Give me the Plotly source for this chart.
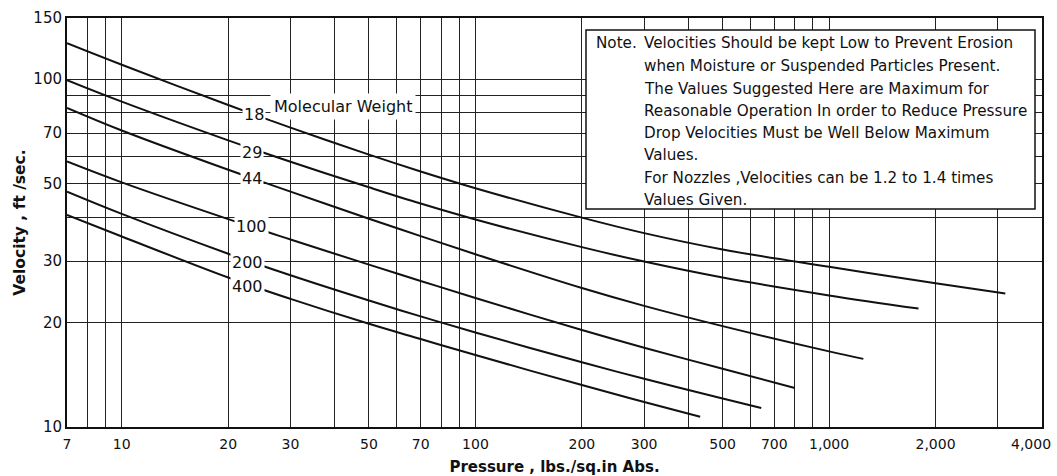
import numpy as np
import plotly.graph_objects as go

# Suggested maximum gas velocity (ft/sec) vs. absolute pressure (psia),
# one curve per molecular weight.
mw_names = ["18", "29", "44", "100", "200", "400"]

p_18 = [7, 10, 20, 30, 50, 70, 100, 200, 300, 500, 1000, 2000, 3150]
v_18 = [127, 110.1, 84.3, 72.6, 60.7, 54.3, 48.6, 40.0, 36.1, 32.4, 28.9, 25.9, 24.2]

p_29 = [7, 10, 20, 30, 50, 70, 100, 200, 300, 500, 1000, 1790]
v_29 = [99.4, 86.2, 66.7, 57.9, 48.9, 43.9, 39.5, 32.9, 29.9, 26.9, 23.9, 21.9]

p_44 = [7, 10, 20, 30, 50, 70, 100, 200, 300, 500, 1000, 1250]
v_44 = [82.7, 71.2, 54.9, 47.5, 39.7, 35.4, 31.4, 25.1, 22.3, 19.5, 16.5, 15.7]

p_100 = [7, 10, 20, 30, 50, 70, 100, 200, 300, 500, 800]
v_100 = [58, 50.5, 39.6, 34.6, 29.3, 26.3, 23.5, 19.0, 16.9, 14.7, 12.95]

p_200 = [7, 10, 20, 30, 50, 70, 100, 200, 300, 500, 643]
v_200 = [47.5, 41.0, 31.5, 27.3, 23.1, 20.8, 18.7, 15.35, 13.76, 12.08, 11.34]

p_400 = [7, 10, 20, 30, 50, 70, 100, 200, 300, 432]
v_400 = [40.7, 35.3, 26.9, 23.35, 19.8, 17.9, 16.1, 13.2, 11.8, 10.7]

# where each molecular-weight number sits on its curve
label_p = [23.6, 23.4, 23.4, 23.2, 22.6, 22.6]
label_v = [79.4, 61.4, 52.0, 37.6, 29.8, 25.4]

# axis grid and tick labels
x_grid = [7, 8, 9, 10, 20, 30, 40, 50, 60, 70, 80, 90, 100, 200, 300, 400,
          500, 600, 700, 800, 900, 1000, 2000, 3000, 4000]
x_labels = {7: "7", 10: "10", 20: "20", 30: "30", 50: "50", 70: "70",
            100: "100", 200: "200", 300: "300", 500: "500", 700: "700",
            1000: "1,000", 2000: "2,000"}
x_end_label = "4,000"
y_grid = [10, 20, 30, 40, 50, 60, 70, 80, 90, 100, 150]
y_labels = {10: "10", 20: "20", 30: "30", 50: "50", 70: "70", 100: "100", 150: "150"}

note_lines = [
    "Velocities Should be kept Low to Prevent Erosion",
    "when Moisture or Suspended Particles Present.",
    "The Values Suggested Here are Maximum for",
    "Reasonable Operation In order to Reduce Pressure",
    "Drop Velocities Must be Well Below Maximum",
    "Values.",
    "For Nozzles ,Velocities can be 1.2 to 1.4 times",
    "Values Given.",
]

FONT = "DejaVu Sans"
INK = "#111111"

curves = [(p_18, v_18), (p_29, v_29), (p_44, v_44),
          (p_100, v_100), (p_200, v_200), (p_400, v_400)]

fig = go.Figure()
for name, (p, v) in zip(mw_names, curves):
    fig.add_trace(go.Scatter(
        x=p, y=v, mode="lines", name=name,
        line=dict(color=INK, width=2, shape="spline", smoothing=1.0),
        showlegend=False, hoverinfo="skip",
    ))

annotations = []
for name, p, v in zip(mw_names, label_p, label_v):
    annotations.append(dict(
        x=np.log10(p), y=np.log10(v), xref="x", yref="y",
        text=name, showarrow=False, font=dict(family=FONT, size=16, color=INK),
        bgcolor="white", borderpad=1,
    ))
annotations.append(dict(
    x=np.log10(42.2), y=np.log10(83.7), xref="x", yref="y",
    text="Molecular Weight", showarrow=False,
    font=dict(family=FONT, size=16, color=INK),
    bgcolor="white", borderpad=3,
))

# plotting-area geometry in page pixels
L, R, T, B = 67, 1042, 18, 427
W, H = R - L, B - T


def px_x(px):
    return (px - L) / W


def px_y(py):
    return (B - py) / H


# last pressure label, set just inside the right edge
annotations.append(dict(
    x=px_x(1053), y=px_y(444), xref="paper", yref="paper",
    xanchor="right", yanchor="middle", text=x_end_label, showarrow=False,
    font=dict(family=FONT, size=14, color=INK),
))

# note box
note_y = [43, 66, 89, 111, 133, 155, 178, 200]
annotations.append(dict(
    x=px_x(594), y=px_y(note_y[0]), xref="paper", yref="paper",
    xanchor="left", yanchor="middle", text="Note.", showarrow=False,
    font=dict(family=FONT, size=15.2, color=INK),
))
for line, yy in zip(note_lines, note_y):
    annotations.append(dict(
        x=px_x(642), y=px_y(yy), xref="paper", yref="paper",
        xanchor="left", yanchor="middle", text=line, showarrow=False,
        font=dict(family=FONT, size=15.2, color=INK),
    ))

shapes = [dict(
    type="rect", xref="paper", yref="paper",
    x0=px_x(586), x1=px_x(1035), y0=px_y(209), y1=px_y(30),
    line=dict(color=INK, width=1.5), fillcolor="white", layer="above",
)]

fig.update_layout(
    width=1057, height=476, autosize=False,
    margin=dict(l=L, r=1057 - R, t=T, b=476 - B),
    paper_bgcolor="white", plot_bgcolor="white",
    font=dict(family=FONT, color=INK),
    annotations=annotations, shapes=shapes,
    xaxis=dict(
        type="log", range=[np.log10(7) - 1e-5, np.log10(4000) + 1e-5],
        tickvals=x_grid, ticktext=[x_labels.get(v, "") for v in x_grid],
        showgrid=True, gridcolor="#222222", gridwidth=1.3,
        showline=True, linecolor=INK, linewidth=2, mirror=True,
        ticks="", ticklabelstandoff=3,
        tickfont=dict(family=FONT, size=14, color=INK),
        title=dict(text="<b>Pressure , lbs./sq.in Abs.</b>", standoff=12,
                   font=dict(family=FONT, size=15, color=INK)),
        zeroline=False, automargin=False,
    ),
    yaxis=dict(
        type="log", range=[np.log10(10) - 1e-5, np.log10(150) + 1e-5],
        tickvals=y_grid, ticktext=[y_labels.get(v, "") for v in y_grid],
        showgrid=True, gridcolor="#222222", gridwidth=1.3,
        showline=True, linecolor=INK, linewidth=2, mirror=True,
        ticks="", tickfont=dict(family=FONT, size=15, color=INK),
        title=dict(text="<b>Velocity , ft /sec.</b>", standoff=4,
                   font=dict(family=FONT, size=15.5, color=INK)),
        zeroline=False, automargin=False,
    ),
)

fig.write_html("out.html")
